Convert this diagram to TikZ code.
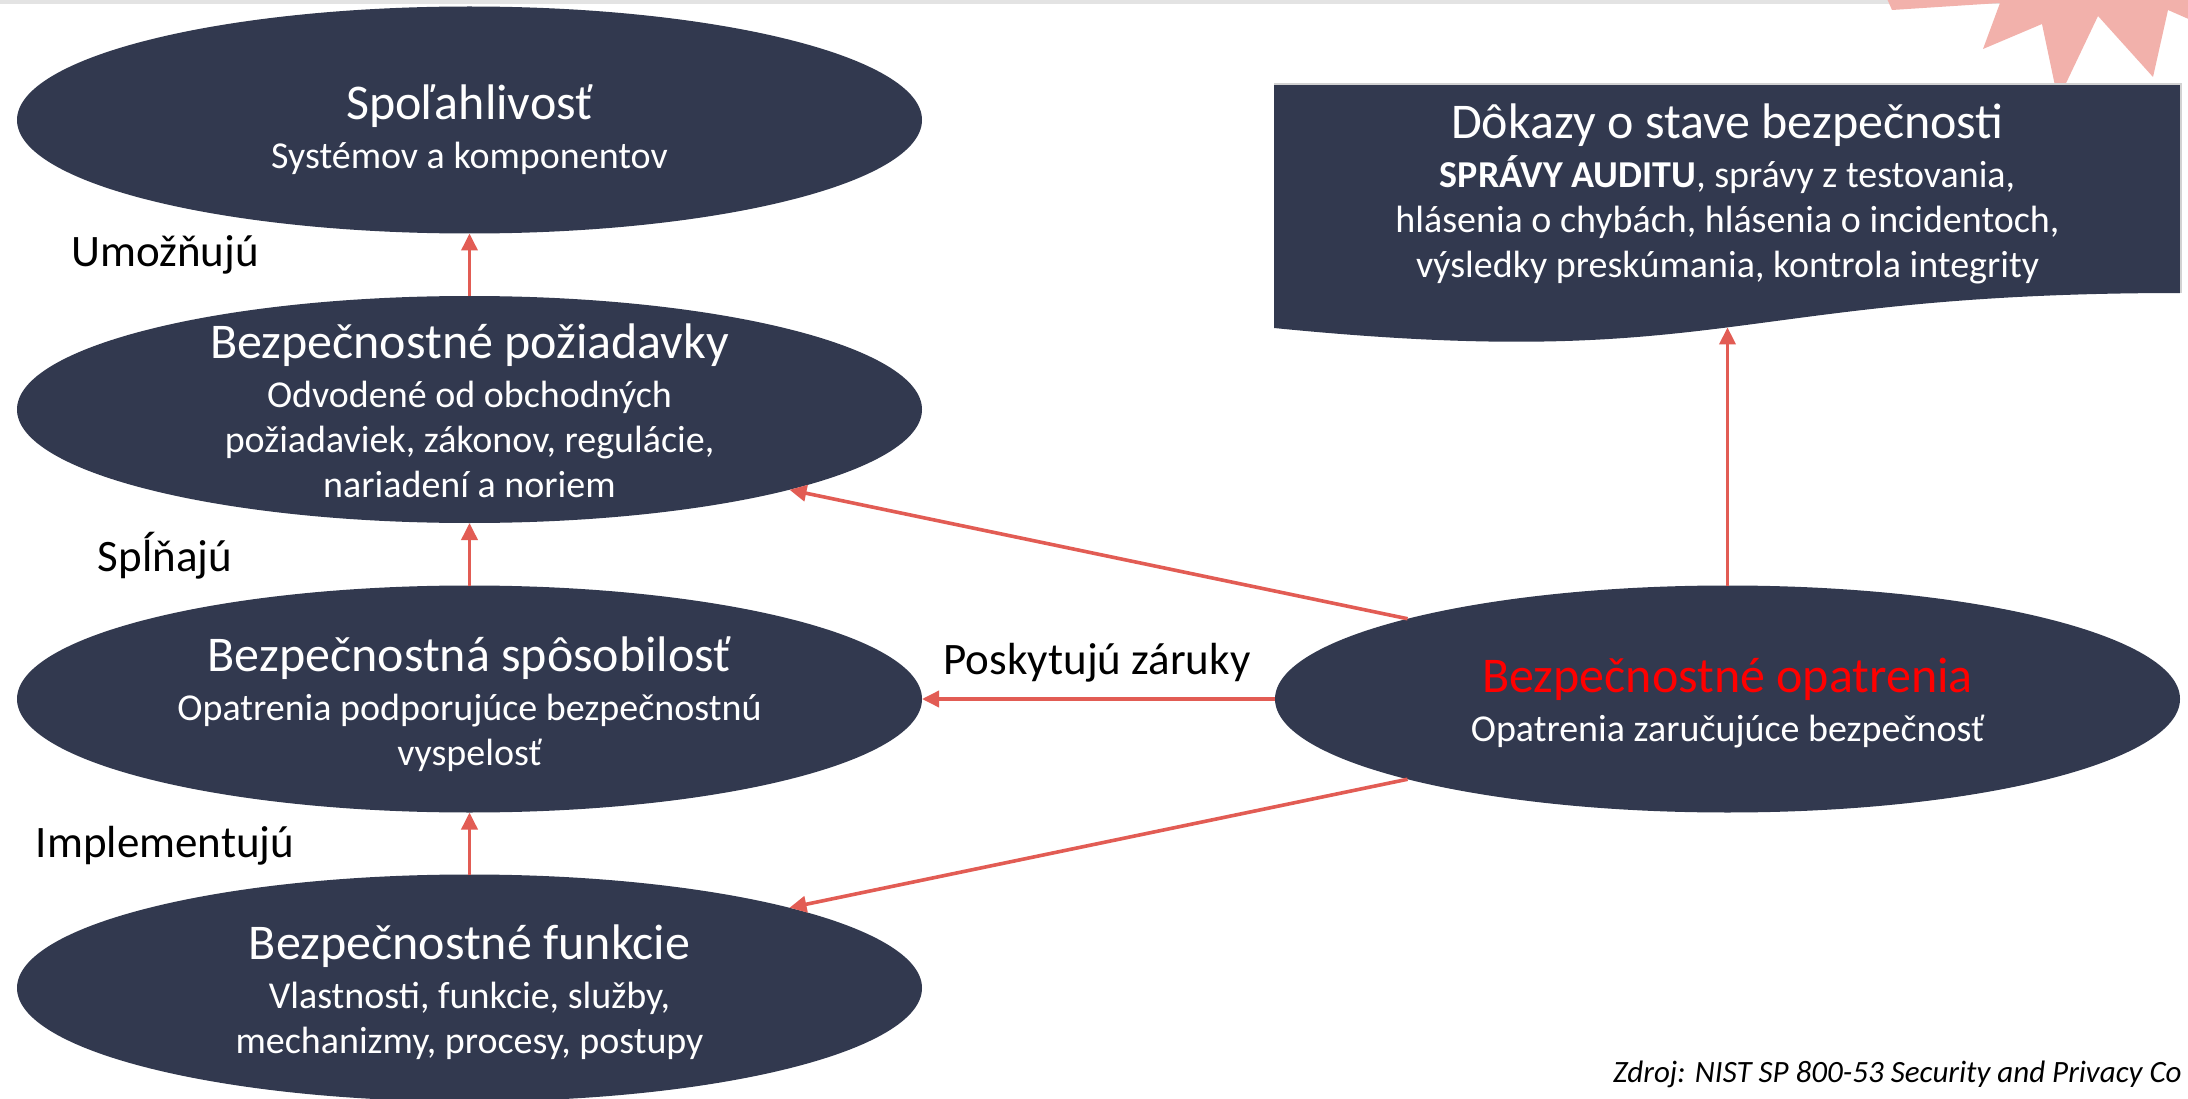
\documentclass[tikz,border=0pt]{standalone}
\usepackage{fontspec}
\setmainfont{Carlito}
\usetikzlibrary{arrows.meta,shapes.geometric}
\definecolor{navy}{HTML}{32394F}
\definecolor{arrowred}{HTML}{E25C54}
\definecolor{starpink}{HTML}{F2B1AB}
\definecolor{topgray}{HTML}{E3E3E3}
\definecolor{pureRed}{HTML}{FF0000}
\newcommand{\ttlsize}{\fontsize{50}{52}\selectfont}
\begin{document}
\begin{tikzpicture}[x=1pt,y=-1pt,
  blob/.style={ellipse, fill=navy, minimum width=905pt, minimum height=227pt, inner sep=0pt, outer sep=0pt},
  txt/.style={text=white, align=center, font=\fontsize{38}{45}\selectfont, inner sep=0pt},
  lbl/.style={font=\fontsize{45}{50}\selectfont, anchor=base, inner sep=0pt},
  link/.style={draw=arrowred, line width=3.6pt, -{Triangle[length=17pt,width=16pt]}}]
\useasboundingbox (0,0) rectangle (2188,1099);
\clip (0,0) rectangle (2188,1099);
\fill[white] (0,0) rectangle (2188,1099);
% top gray bar and star
\fill[topgray] (0,0) rectangle (2000,4);
\fill[starpink] (1870,-40) -- (1892,10) -- (2000,3) -- (1983,49) -- (2042,24) -- (2058,100) -- (2098,16) -- (2153,77) -- (2168,10) -- (2200,24) -- (2200,-40) -- cycle;
% ellipses
\node[blob] (e1) at (469.5,120) {};
\node[blob] (e2) at (469.5,409.5) {};
\node[blob] (e3) at (469.5,699) {};
\node[blob] (e4) at (469.5,988) {};
\node[blob] (e5) at (1727.5,699) {};
% document shape
\fill[navy] (1274,84) -- (2181,84) -- (2181,293) .. controls (1727.5,293) and (1727.5,373) .. (1274,328) -- cycle;
\draw[gray!35, line width=1.2pt] (1274,84) -- (2181,84) -- (2181,293);
\coordinate (docb) at (1727.5,327.4);
% texts
\node[txt] (t1) at (469.5,130) {{\ttlsize Spoľahlivosť}\\[4pt] Systémov a komponentov};
\node[txt] (t2) at (469.5,411) {{\ttlsize Bezpečnostné požiadavky}\\[4pt] Odvodené od obchodných\\ požiadaviek, zákonov, regulácie,\\ nariadení a noriem};
\node[txt] (t3) at (469.5,704) {{\ttlsize Bezpečnostná spôsobilosť}\\[4pt] Opatrenia podporujúce bezpečnostnú\\ vyspelosť};
\node[txt] (t4) at (469.5,992) {{\ttlsize Bezpečnostné funkcie}\\[4pt] Vlastnosti, funkcie, služby,\\ mechanizmy, procesy, postupy};
\node[txt] (t5) at (1727.5,703) {{\ttlsize\color{pureRed} Bezpečnostné opatrenia}\\[4pt] Opatrenia zaručujúce bezpečnosť};
\node[txt] (tdoc) at (1727.5,194) {{\ttlsize Dôkazy o stave bezpečnosti}\\[4pt] \textbf{SPRÁVY AUDITU}, správy z testovania,\\ hlásenia o chybách, hlásenia o incidentoch,\\ výsledky preskúmania, kontrola integrity};
% connectors
\draw[link] (e2.north) -- (e1.south);
\draw[link] (e3.north) -- (e2.south);
\draw[link] (e4.north) -- (e3.south);
\draw[link] (e5.west) -- (e3.east);
\draw[link] (e5.north west) -- (e2.south east);
\draw[link] (e5.south west) -- (e4.north east);
\draw[link] (e5.north) -- (docb);
% labels
\node[lbl] (l1) at (165,267) {Umožňujú};
\node[lbl] (l2) at (165,571) {Spĺňajú};
\node[lbl] (l3) at (165,857) {Implementujú};
\node[lbl] (l4) at (1097,674) {Poskytujú záruky};
\node[font=\itshape\fontsize{31}{34}\selectfont, anchor=base west, inner sep=0pt] (src) at (1613,1082) {Zdroj: NIST SP 800-53 Security and Privacy Co};
\end{tikzpicture}
\end{document}
